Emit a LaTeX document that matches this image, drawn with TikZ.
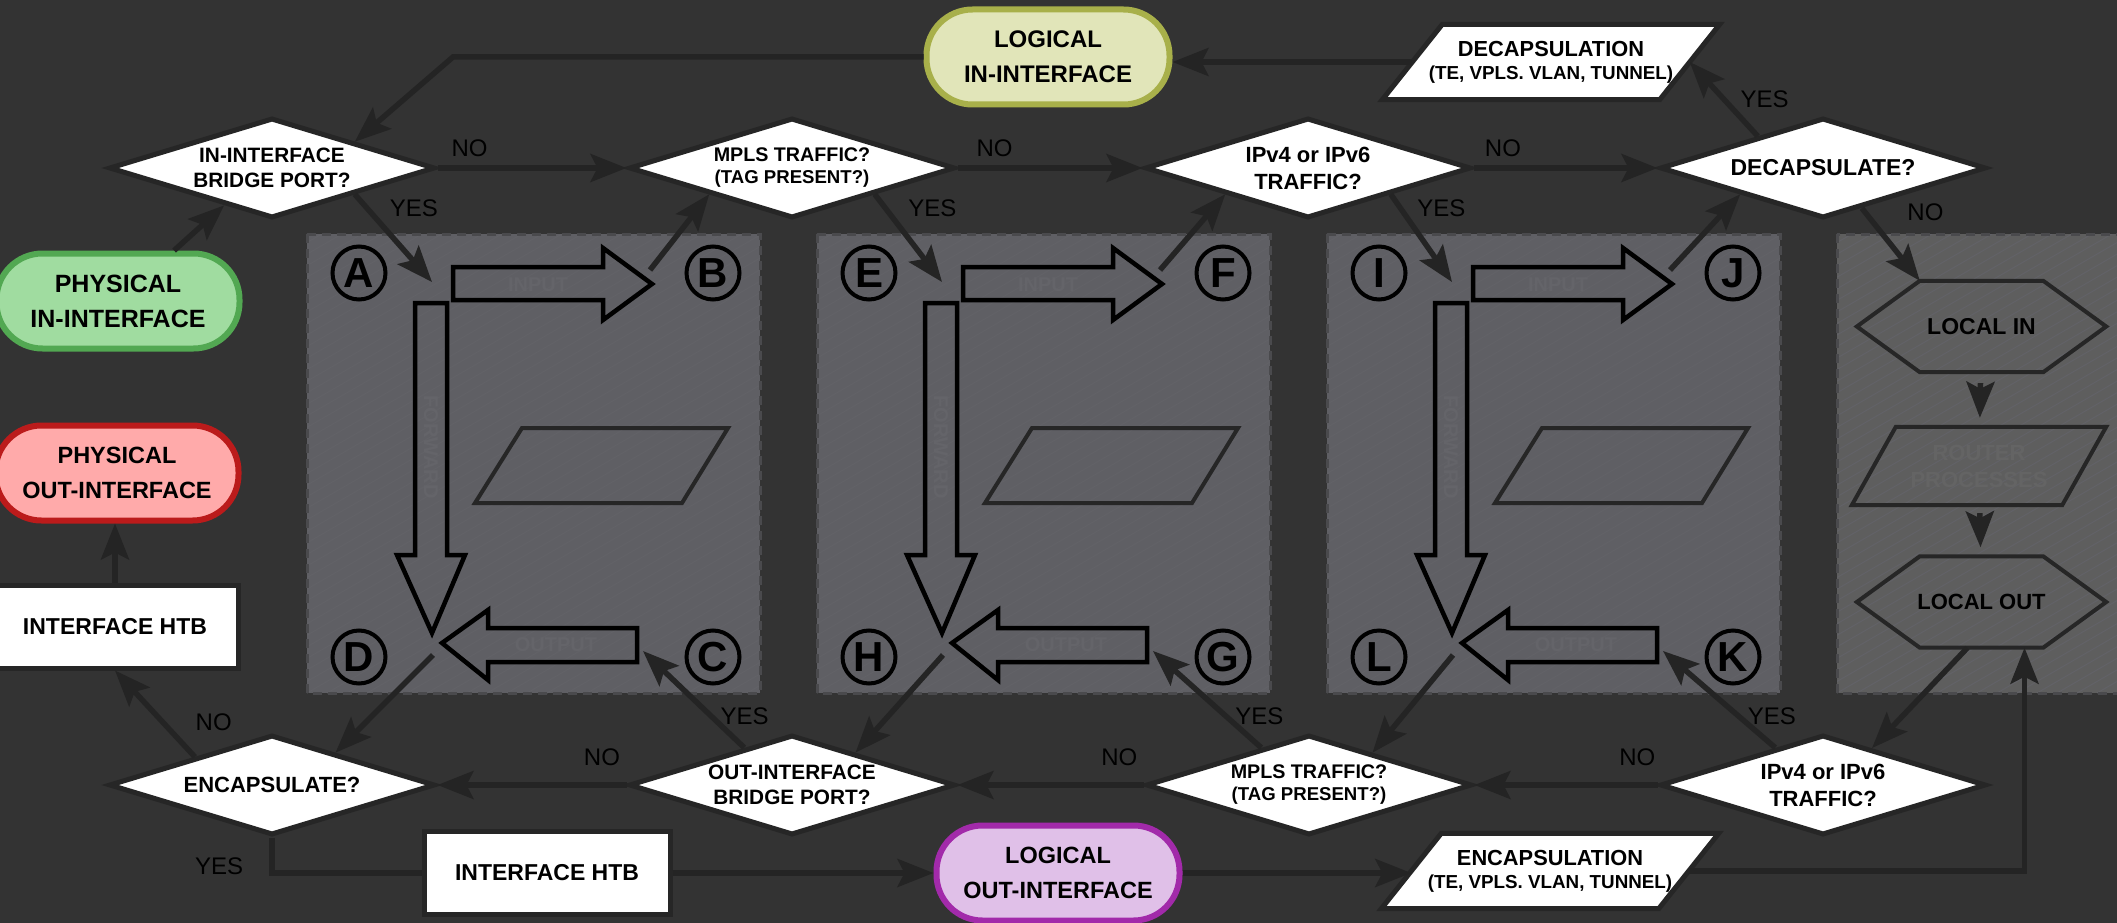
\documentclass[tikz,border=0pt]{standalone}
\usepackage{fontspec}
\setmainfont{Liberation Sans}
\usetikzlibrary{arrows.meta}
\usetikzlibrary{shapes.geometric}
\usetikzlibrary{calc}
\usetikzlibrary{backgrounds}
\usetikzlibrary{positioning}
\definecolor{bgdark}{HTML}{333333}
\definecolor{panelfill}{HTML}{5F5F64}
\definecolor{localfill}{HTML}{5E5E5E}
\definecolor{paneledge}{HTML}{4A4A4D}
\definecolor{hatchline}{HTML}{626267}
\definecolor{linedark}{HTML}{242424}
\definecolor{shapeline}{HTML}{262626}
\definecolor{faint}{HTML}{646469}
\definecolor{faintgrey}{HTML}{646464}
\definecolor{greenfill}{HTML}{A0DCA0}
\definecolor{greenedge}{HTML}{52A852}
\definecolor{redfill}{HTML}{FFAAAA}
\definecolor{rededge}{HTML}{BB1B1B}
\definecolor{olivefill}{HTML}{E1E5B9}
\definecolor{oliveedge}{HTML}{A8B04A}
\definecolor{purplefill}{HTML}{E0C0E8}
\definecolor{purpleedge}{HTML}{A22AAA}
\newcommand\qfont{\bfseries\fontsize{20.8}{25}\selectfont}
\newcommand\mplsfont{\bfseries\fontsize{19.7}{22}\selectfont}
\newcommand\tagfont{\fontsize{18.6}{22}\selectfont}
\newcommand\ipfont{\bfseries\fontsize{22}{27}\selectfont}
\newcommand\termfont{\bfseries\fontsize{23.5}{35}\selectfont}
\newcommand\slantfont{\bfseries\fontsize{21.8}{23}\selectfont}
\newcommand\slantsmall{\fontsize{18.8}{23}\selectfont}
\tikzset{decide/.style = {diamond, draw = shapeline, line width = 5pt, fill = white,
    aspect = 3.26, inner sep = 0, minimum width = 326pt, minimum height = 100pt,
    align = center, font = \qfont}}
\tikzset{terminal/.style = {rectangle, rounded corners = 46pt, line width = 6pt,
    minimum width = 243pt, minimum height = 95pt, align = center, font = \termfont}}
\tikzset{htbbox/.style = {rectangle, draw = shapeline, line width = 5pt, fill = white,
    minimum width = 246pt, minimum height = 83pt, font = \termfont}}
\tikzset{slantbox/.style = {rectangle, inner sep = 0, minimum width = 337pt,
    minimum height = 75pt, align = center, font = \slantfont}}
\tikzset{hexbox/.style = {rectangle, inner sep = 0, minimum width = 249pt,
    minimum height = 91pt, font = \ipfont}}
\tikzset{ring/.style = {circle, draw = black, line width = 4pt, minimum size = 53pt,
    inner sep = 0, font = \bfseries\fontsize{42}{42}\selectfont}}
\tikzset{lbl/.style = {inner sep = 0, text = black, font = \fontsize{24}{24}\selectfont}}
\tikzset{faintlbl/.style = {inner sep = 0, text = faint, font = \bfseries\fontsize{20}{24}\selectfont}}
\tikzset{conn/.style = {draw = linedark, line width = 5.5pt,
    -{Stealth[length = 36pt, width = 28pt, inset = 7pt]}}}
\tikzset{plainconn/.style = {draw = linedark, line width = 5.5pt}}
\tikzset{bigarrow/.style = {draw = black, line width = 4.5pt}}
\tikzset{panelshape/.style = {draw = shapeline, line width = 4pt}}
\def\drawslant#1#2#3{%
    \draw [#3] ([xshift = #2]#1.north west) -- (#1.north east)
        -- ([xshift = -#2]#1.south east) -- (#1.south west) -- cycle;%
}
\def\drawhex#1#2#3{%
    \draw [#3] (#1.west) -- ([xshift = #2]#1.north west) -- ([xshift = -#2]#1.north east)
        -- (#1.east) -- ([xshift = -#2]#1.south east) -- ([xshift = #2]#1.south west) -- cycle;%
}

\begin{document}
\begin{tikzpicture}[x = 1pt, y = -1pt]
    \useasboundingbox (0, 0) rectangle (2117, 923);

    \node [terminal, fill = greenfill, draw = greenedge, font = \bfseries\fontsize{25}{35}\selectfont] (phin) at (118, 301) {PHYSICAL\\IN-INTERFACE};
    \node [terminal, fill = redfill, draw = rededge] (phout) at (117, 473) {PHYSICAL\\OUT-INTERFACE};
    \node [htbbox, font = \bfseries\fontsize{23}{28}\selectfont] (htbl) at (115, 626.5) {INTERFACE HTB};
    \node [terminal, fill = olivefill, draw = oliveedge, font = \bfseries\fontsize{24}{35}\selectfont] (login) at (1048, 57) {LOGICAL\\IN-INTERFACE};
    \node [terminal, fill = purplefill, draw = purpleedge] (logout) at (1058, 873) {LOGICAL\\OUT-INTERFACE};
    \node [htbbox, font = \bfseries\fontsize{23}{28}\selectfont] (htbb) at (547, 873) {INTERFACE HTB};
    \node [slantbox] (decap) at (1551, 62) {DECAPSULATION\\{\slantsmall (TE, VPLS. VLAN, TUNNEL)}};
    \node [slantbox] (encap) at (1550, 871) {ENCAPSULATION\\{\slantsmall (TE, VPLS. VLAN, TUNNEL)}};

    \node [decide] (qbrin) at (272, 168) {IN-INTERFACE\\BRIDGE PORT?};
    \node [decide, font = \mplsfont] (qmplsin) at (792, 168) {MPLS TRAFFIC?\\{\tagfont (TAG PRESENT?)}};
    \node [decide, font = \ipfont] (qipin) at (1308, 168) {IPv4 or IPv6\\TRAFFIC?};
    \node [decide, font = \bfseries\fontsize{23}{27}\selectfont] (qdecap) at (1823, 168) {DECAPSULATE?};
    \node [decide, font = \ipfont] (qencap) at (272, 785) {ENCAPSULATE?};
    \node [decide] (qbrout) at (792, 785) {OUT-INTERFACE\\BRIDGE PORT?};
    \node [decide, font = \mplsfont] (qmplsout) at (1309, 785) {MPLS TRAFFIC?\\{\tagfont (TAG PRESENT?)}};
    \node [decide, font = \ipfont] (qipout) at (1823, 785) {IPv4 or IPv6\\TRAFFIC?};

    % bridging, mpls and routing panels
    \foreach \px/\n in {307/1, 817/2, 1327/3} {
        \draw [bigarrow] (\px+146, 267) -- (\px+296, 267) -- (\px+296, 248) -- (\px+345, 284)
            -- (\px+296, 320) -- (\px+296, 300) -- (\px+146, 300) -- cycle;
        \draw [bigarrow] (\px+108, 303) -- (\px+140, 303) -- (\px+140, 555) -- (\px+158, 555)
            -- (\px+125, 633) -- (\px+90, 555) -- (\px+108, 555) -- cycle;
        \draw [bigarrow] (\px+330, 628) -- (\px+181, 628) -- (\px+181, 610) -- (\px+135, 643)
            -- (\px+181, 680) -- (\px+181, 662) -- (\px+330, 662) -- cycle;
        \draw [panelshape] (\px+215, 428) -- (\px+421, 428) -- (\px+375, 503) -- (\px+168, 503) -- cycle;
        \node [faintlbl] (inp\n) at (\px+231, 285) {INPUT};
        \node [faintlbl, rotate = -90] (fwd\n) at (\px+124, 447) {FORWARD};
        \node [faintlbl] (outp\n) at (\px+249, 645) {OUTPUT};
        \coordinate (in\n) at (\px+125, 282);
        \coordinate (ex\n) at (\px+343, 270);
        \coordinate (dn\n) at (\px+126, 655);
        \coordinate (up\n) at (\px+336, 651);
    }
    \foreach \px/\qa/\qb/\qc/\qd in {307/A/B/C/D, 817/E/F/G/H, 1327/I/J/K/L} {
        \node [ring] (ring\qa) at (\px+52, 273) {\qa};
        \node [ring] (ring\qb) at (\px+406, 273) {\qb};
        \node [ring] (ring\qc) at (\px+406, 657) {\qc};
        \node [ring] (ring\qd) at (\px+52, 657) {\qd};
    }

    \node [hexbox, font = \bfseries\fontsize{23}{27}\selectfont] (lin) at (1981.5, 326.5) {LOCAL IN};
    \node [slantbox, minimum width = 254pt, minimum height = 78pt, text = faintgrey,
        font = \ipfont, align = center] (rproc) at (1979, 466) {ROUTER\\PROCESSES};
    \node [hexbox] (lout) at (1981.5, 602) {LOCAL OUT};
    \drawhex{lin}{63pt}{panelshape}
    \drawhex{lout}{63pt}{panelshape}
    \drawslant{rproc}{44pt}{panelshape}

    \coordinate (decapL) at ($([xshift = 60pt]decap.north west)!0.5!(decap.south west)$);
    \coordinate (decapR) at ($(decap.north east)!0.5!([xshift = -60pt]decap.south east)$);
    \coordinate (encapL) at ($([xshift = 60pt]encap.north west)!0.5!(encap.south west)$);
    \coordinate (encapR) at ($(encap.north east)!0.5!([xshift = -60pt]encap.south east)$);
    \coordinate (linTL) at ([xshift = 63pt]lin.north west);
    \coordinate (loutB) at ([xshift = -14pt]lout.south);
    \coordinate (bendA) at (453, 57);

    \draw [conn] (phin.42) -- (qbrin.218);
    \draw [conn] (login.west) -- (bendA) -- (qbrin.north east);
    \draw [conn] (decapL) -- (decapL -| login.east);
    \draw [conn] (qbrin.east) -- node [lbl, pos = 0.17, above = 9pt] {NO} (qmplsin.west);
    \draw [conn] (qmplsin.east) -- node [lbl, pos = 0.2, above = 9pt] {NO} (qipin.west);
    \draw [conn] (qipin.east) -- node [lbl, pos = 0.16, above = 9pt] {NO} (qdecap.west);
    \draw [conn] (qbrin.south east) -- node [lbl, pos = 0.16, right = 20pt] {YES} (in1);
    \draw [conn] (qmplsin.south east) -- node [lbl, pos = 0.16, right = 20pt] {YES} (in2);
    \draw [conn] (qipin.south east) -- node [lbl, pos = 0.16, right = 14pt] {YES} (in3);
    \draw [conn] (ex1) -- (qmplsin.south west);
    \draw [conn] (ex2) -- (qipin.south west);
    \draw [conn] (ex3) -- (qdecap.south west);
    \draw [conn] (qdecap.154) -- node [lbl, pos = 0.5, right = 14pt] {YES} (decapR);
    \draw [conn] (qdecap.314) -- node [lbl, pos = 0.05, right = 40pt] {NO} (linTL);
    \draw [conn, shorten <= 11pt, shorten >= 9pt] (lin) -- (rproc);
    \draw [conn, shorten <= 8pt, shorten >= 9pt] (rproc) -- (lout);
    \draw [conn] (loutB) -- (qipout.37);

    \draw [conn] (qipout.142) -- node [lbl, pos = 0.33, right = 7pt] {YES} (up3);
    \draw [conn] (qmplsout.142) -- node [lbl, pos = 0.33, right = 7pt] {YES} (up2);
    \draw [conn] (qbrout.142) -- node [lbl, pos = 0.33, right = 7pt] {YES} (up1);
    \draw [conn] (qipout.west) -- node [lbl, pos = 0.11, above = 17pt] {NO} (qmplsout.east);
    \draw [conn] (qmplsout.west) -- node [lbl, pos = 0.13, above = 17pt] {NO} (qbrout.east);
    \draw [conn] (qbrout.west) -- node [lbl, pos = 0.13, above = 17pt] {NO} (qencap.east);
    \draw [conn] (dn1) -- (qencap.27);
    \draw [conn] (dn2) -- (qbrout.27);
    \draw [conn] (dn3) -- (qmplsout.27);
    \draw [conn] (qencap.160) -- node [lbl, pos = 0.4, right = 30pt] {NO} (htbl.south);
    \draw [conn] (htbl.north) -- (htbl.north |- phout.south);
    \draw [plainconn] (qencap.south) |- node [lbl, pos = 0.4, left = 26pt] {YES} (htbb.west);
    \draw [conn] (htbb.east) -- (htbb.east -| logout.west);
    \draw [conn] (logout.east) -- (logout.east -| encapL);
    \draw [conn] (encapR) -| ([xshift = 43pt]lout.south);

    \begin{scope}[on background layer]
        \fill [bgdark] (0, 0) rectangle (2117, 923);
        \foreach \px/\w/\col in {307/453/panelfill, 817/453/panelfill, 1327/453/panelfill, 1837/300/localfill} {
            \fill [\col] (\px, 234) rectangle (\px+\w, 693);
            \begin{scope}
                \clip (\px, 234) rectangle (\px+\w, 693);
                \foreach \k in {0, ..., 64}
                    \draw [hatchline, line width = 1pt] (\px-800+\k*20, 693) -- ++(800, -462);
            \end{scope}
            \draw [paneledge, line width = 3pt, dash pattern = on 9pt off 6pt] (\px, 234) rectangle (\px+\w, 693);
        }
        \drawslant{decap}{60pt}{fill = white, draw = shapeline, line width = 5pt}
        \drawslant{encap}{60pt}{fill = white, draw = shapeline, line width = 5pt}
    \end{scope}
\end{tikzpicture}
\end{document}
